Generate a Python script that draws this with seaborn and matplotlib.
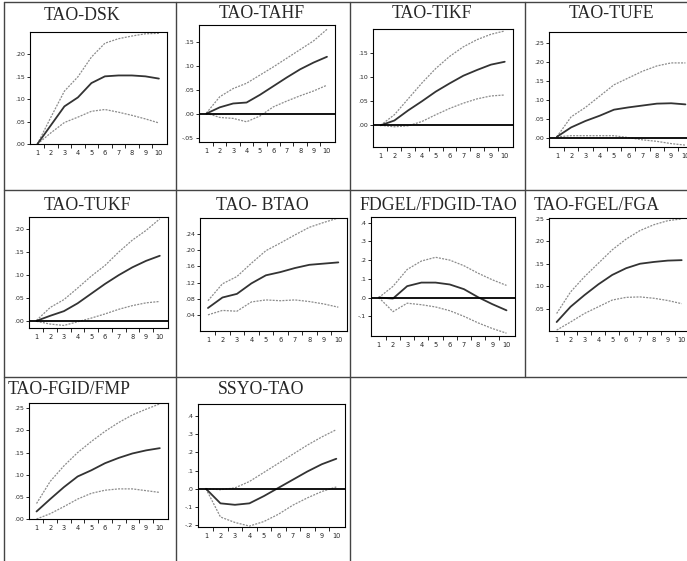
import numpy as np
import pandas as pd
import matplotlib
matplotlib.use('Agg')
import matplotlib.pyplot as plt
import seaborn as sns
from matplotlib.lines import Line2D

sns.set_style("ticks")
plt.rcParams['font.family'] = ['DejaVu Sans']

W, H = 687, 561
STEPS = list(range(1, 11))

# ── impulse responses: point estimate, upper band, lower band ──
dsk_mid = [0.0, 0.042, 0.084, 0.104, 0.136, 0.151, 0.153, 0.153, 0.151, 0.146]
dsk_up = [0.0, 0.060, 0.118, 0.150, 0.194, 0.225, 0.235, 0.241, 0.246, 0.247]
dsk_lo = [0.0, 0.025, 0.048, 0.060, 0.073, 0.077, 0.071, 0.064, 0.056, 0.047]

tahf_mid = [0.001, 0.014, 0.022, 0.024, 0.040, 0.058, 0.076, 0.093, 0.107, 0.119]
tahf_up = [0.002, 0.036, 0.053, 0.064, 0.081, 0.098, 0.116, 0.134, 0.152, 0.176]
tahf_lo = [0.002, -0.007, -0.009, -0.016, -0.004, 0.015, 0.027, 0.038, 0.048, 0.060]

tikf_mid = [0.0, 0.010, 0.031, 0.050, 0.070, 0.087, 0.103, 0.115, 0.126, 0.132]
tikf_up = [0.0, 0.022, 0.055, 0.088, 0.118, 0.143, 0.163, 0.178, 0.189, 0.196]
tikf_lo = [0.0, -0.003, -0.001, 0.008, 0.022, 0.035, 0.046, 0.055, 0.061, 0.063]

tufe_mid = [0.002, 0.027, 0.044, 0.058, 0.074, 0.080, 0.085, 0.090, 0.091, 0.088]
tufe_up = [0.002, 0.055, 0.080, 0.110, 0.140, 0.158, 0.176, 0.190, 0.198, 0.198]
tufe_lo = [0.002, 0.005, 0.005, 0.005, 0.005, 0.0, -0.006, -0.010, -0.016, -0.020]

tukf_mid = [0.001, 0.012, 0.022, 0.039, 0.060, 0.081, 0.100, 0.117, 0.131, 0.142]
tukf_up = [0.002, 0.030, 0.047, 0.072, 0.098, 0.121, 0.150, 0.176, 0.197, 0.222]
tukf_lo = [0.0, -0.006, -0.009, -0.001, 0.007, 0.016, 0.026, 0.034, 0.040, 0.043]

btao_mid = [0.057, 0.083, 0.092, 0.118, 0.138, 0.146, 0.156, 0.164, 0.167, 0.170]
btao_up = [0.075, 0.117, 0.135, 0.168, 0.199, 0.218, 0.238, 0.257, 0.269, 0.280]
btao_lo = [0.040, 0.051, 0.049, 0.072, 0.077, 0.075, 0.077, 0.073, 0.067, 0.059]

fdg_mid = [0.0, -0.005, 0.061, 0.080, 0.080, 0.070, 0.045, 0.002, -0.035, -0.068]
fdg_up = [0.0, 0.060, 0.150, 0.195, 0.215, 0.200, 0.170, 0.130, 0.095, 0.065]
fdg_lo = [0.0, -0.075, -0.030, -0.038, -0.050, -0.070, -0.100, -0.135, -0.165, -0.190]

fga_mid = [0.020, 0.054, 0.080, 0.104, 0.125, 0.140, 0.150, 0.154, 0.157, 0.158]
fga_up = [0.039, 0.087, 0.121, 0.151, 0.181, 0.205, 0.224, 0.237, 0.246, 0.250]
fga_lo = [0.002, 0.020, 0.039, 0.054, 0.069, 0.075, 0.076, 0.073, 0.068, 0.061]

fmp_mid = [0.017, 0.045, 0.072, 0.096, 0.110, 0.126, 0.138, 0.148, 0.155, 0.160]
fmp_up = [0.035, 0.085, 0.120, 0.150, 0.175, 0.198, 0.218, 0.235, 0.248, 0.260]
fmp_lo = [0.0, 0.012, 0.028, 0.045, 0.058, 0.065, 0.068, 0.068, 0.064, 0.060]

ssyo_mid = [0.0, -0.080, -0.088, -0.080, -0.040, 0.005, 0.050, 0.095, 0.135, 0.165]
ssyo_up = [0.0, -0.005, 0.005, 0.040, 0.090, 0.140, 0.190, 0.240, 0.285, 0.325]
ssyo_lo = [0.0, -0.155, -0.185, -0.205, -0.180, -0.140, -0.090, -0.050, -0.015, 0.010]

titles = ['TAO-DSK', 'TAO-TAHF', 'TAO-TIKF', 'TAO-TUFE', 'TAO-TUKF',
          'TAO- BTAO', 'FDGEL/FDGID-TAO', 'TAO-FGEL/FGA', 'TAO-FGID/FMP', 'SSYO-TAO']
mids = [dsk_mid, tahf_mid, tikf_mid, tufe_mid, tukf_mid, btao_mid, fdg_mid, fga_mid, fmp_mid, ssyo_mid]
ups = [dsk_up, tahf_up, tikf_up, tufe_up, tukf_up, btao_up, fdg_up, fga_up, fmp_up, ssyo_up]
los = [dsk_lo, tahf_lo, tikf_lo, tufe_lo, tukf_lo, btao_lo, fdg_lo, fga_lo, fmp_lo, ssyo_lo]

# y tick values and their EViews style labels
yt_a = [0.0, 0.05, 0.10, 0.15, 0.20]
yl_a = ['.00', '.05', '.10', '.15', '.20']
yt_b = [-0.05, 0.0, 0.05, 0.10, 0.15]
yl_b = ['-.05', '.00', '.05', '.10', '.15']
yt_c = [0.0, 0.05, 0.10, 0.15]
yl_c = ['.00', '.05', '.10', '.15']
yt_d = [0.0, 0.05, 0.10, 0.15, 0.20, 0.25]
yl_d = ['.00', '.05', '.10', '.15', '.20', '.25']
yt_e = [0.04, 0.08, 0.12, 0.16, 0.20, 0.24]
yl_e = ['.04', '.08', '.12', '.16', '.20', '.24']
yt_f = [-0.1, 0.0, 0.1, 0.2, 0.3, 0.4]
yl_f = ['-.1', '.0', '.1', '.2', '.3', '.4']
yt_g = [0.05, 0.10, 0.15, 0.20, 0.25]
yl_g = ['.05', '.10', '.15', '.20', '.25']
yt_h = [-0.2, -0.1, 0.0, 0.1, 0.2, 0.3, 0.4]
yl_h = ['-.2', '-.1', '.0', '.1', '.2', '.3', '.4']

yticks = [yt_a, yt_b, yt_c, yt_d, yt_a, yt_e, yt_f, yt_g, yt_d, yt_h]
ylabels = [yl_a, yl_b, yl_c, yl_d, yl_a, yl_e, yl_f, yl_g, yl_d, yl_h]
ylims = [(0, 0.25), (-0.058, 0.185), (-0.045, 0.2), (-0.025, 0.28), (-0.0145, 0.226),
         (0.0, 0.28), (-0.205, 0.43), (0.0, 0.252), (0.0, 0.262), (-0.21, 0.466)]
zero_line = [False, True, True, True, True, False, True, False, False, True]

# ── layout (pixels): axes boxes l, t, r, b and title centres ──
boxes = [(30, 32, 167, 144), (199, 25, 335, 142), (373, 29, 513, 147), (549, 32, 694, 147),
         (29, 217, 168, 328), (200, 218, 347, 331), (371, 217, 515, 336), (549, 218, 690, 331),
         (29, 403, 168, 519), (198, 404, 345, 527)]
title_pos = [(82, 15), (262, 14), (432, 14), (611, 14),
             (87, 205), (262, 205), (438, 205), (597, 205),
             (69, 390), (261, 390)]

fig = plt.figure(figsize=(W / 100, H / 100), dpi=100)

# table grid lines
GRID = '#444444'
def hline(y, x0, x1):
    fig.add_artist(Line2D([x0 / W, x1 / W], [1 - y / H, 1 - y / H], color=GRID, lw=1.0))
def vline(x, y0, y1):
    fig.add_artist(Line2D([x / W, x / W], [1 - y0 / H, 1 - y1 / H], color=GRID, lw=1.0))

hline(2, 4, W)
hline(190, 4, W)
hline(377, 4, W)
vline(4, 2, H)
vline(176, 2, H)
vline(350, 2, H)
vline(525, 2, 377)

for i in range(10):
    l, t, r, b = boxes[i]
    ax = fig.add_axes([l / W, 1 - b / H, (r - l) / W, (b - t) / H])
    df = pd.DataFrame({'step': STEPS, 'mid': mids[i], 'up': ups[i], 'lo': los[i]})
    sns.lineplot(data=df, x='step', y='up', ax=ax, color='#8c8c8c', lw=0.9,
                 linestyle=(0, (1.6, 1.0)))
    sns.lineplot(data=df, x='step', y='lo', ax=ax, color='#8c8c8c', lw=0.9,
                 linestyle=(0, (1.6, 1.0)))
    sns.lineplot(data=df, x='step', y='mid', ax=ax, color='#333333', lw=1.3)
    if zero_line[i]:
        ax.axhline(0, color='black', lw=1.3)
    ax.set_xlim(0.45, 10.6)
    ax.set_ylim(*ylims[i])
    ax.set_xlabel('')
    ax.set_ylabel('')
    ax.set_xticks(STEPS)
    ax.set_xticks([s + 0.5 for s in STEPS[:-1]], minor=True)
    ax.tick_params(axis='x', which='major', length=0, pad=4, labelsize=4.8)
    ax.tick_params(axis='x', which='minor', length=3, width=0.7, direction='out')
    ax.set_yticks(yticks[i])
    ax.set_yticklabels(ylabels[i])
    ax.tick_params(axis='y', length=2.5, width=0.7, pad=1, labelsize=4.5, direction='out')
    for sp in ax.spines.values():
        sp.set_color('black')
        sp.set_linewidth(0.8)
    tx, ty = title_pos[i]
    fig.text(tx / W, 1 - ty / H, titles[i], ha='center', va='center',
             family='Liberation Serif', fontsize=12.8)

plt.savefig('out.png', dpi=100)
